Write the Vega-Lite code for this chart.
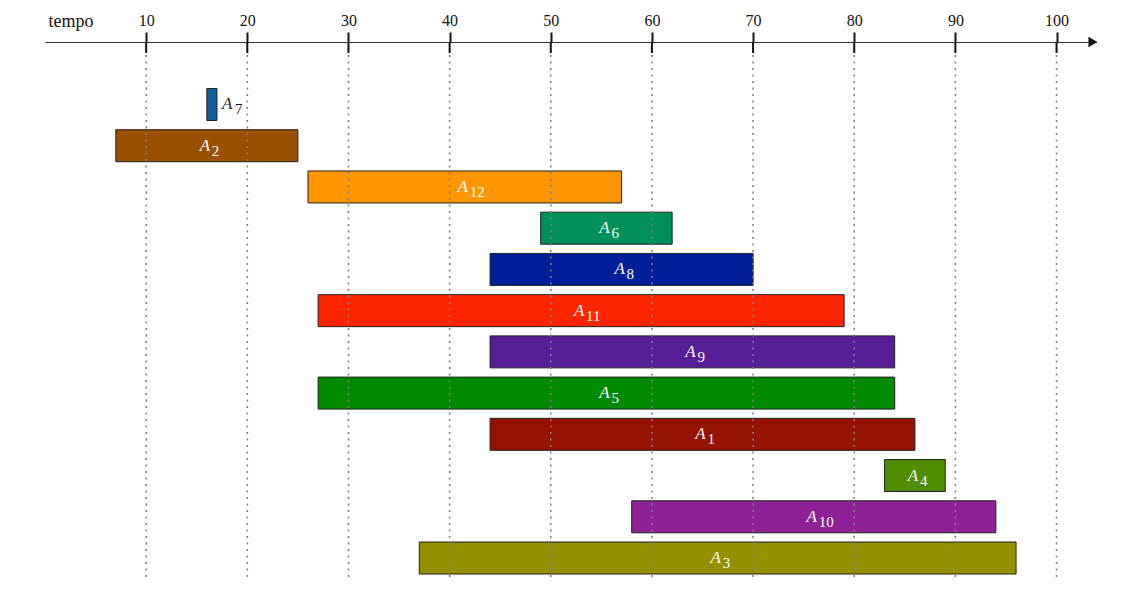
{
  "$schema": "https://vega.github.io/schema/vega-lite/v6.json",
  "autosize": {"type": "none"},
  "padding": {"left": 45, "top": 42, "right": 0, "bottom": 0},
  "width": 1052,
  "height": 538,
  "background": "white",
  "config": {"view": {"stroke": null}, "font": "Liberation Serif, serif"},
  "datasets": {
    "tasks": [
      {"id": "A7", "sub": "7", "start": 16, "end": 17},
      {"id": "A2", "sub": "2", "start": 7, "end": 25},
      {"id": "A12", "sub": "12", "start": 26, "end": 57},
      {"id": "A6", "sub": "6", "start": 49, "end": 62},
      {"id": "A8", "sub": "8", "start": 44, "end": 70},
      {"id": "A11", "sub": "11", "start": 27, "end": 79},
      {"id": "A9", "sub": "9", "start": 44, "end": 84},
      {"id": "A5", "sub": "5", "start": 27, "end": 84},
      {"id": "A1", "sub": "1", "start": 44, "end": 86},
      {"id": "A4", "sub": "4", "start": 83, "end": 89},
      {"id": "A10", "sub": "10", "start": 58, "end": 94},
      {"id": "A3", "sub": "3", "start": 37, "end": 96}
    ],
    "ticks": [{"t": 10}, {"t": 20}, {"t": 30}, {"t": 40}, {"t": 50}, {"t": 60}, {"t": 70}, {"t": 80}, {"t": 90}, {"t": 100}]
  },
  "layer": [
    {
      "data": {"name": "tasks"},
      "layer": [
        {
          "mark": {"type": "bar", "stroke": "#222222", "strokeWidth": 1},
          "encoding": {
            "y": {"field": "id", "type": "nominal", "sort": null,
              "scale": {"domain": ["A7","A2","A12","A6","A8","A11","A9","A5","A1","A4","A10","A3"], "paddingInner": 0.224, "paddingOuter": 0.6365, "align": 0.886},
              "axis": null},
            "x": {"field": "start", "type": "quantitative",
              "scale": {"domain": [0, 104], "nice": false, "zero": false},
              "axis": {
                "orient": "top", "values": [10,20,30,40,50,60,70,80,90,100],
                "title": "tempo", "titleX": 3, "titleY": -16, "titleAlign": "left", "titleAnchor": "start",
                "titleBaseline": "alphabetic", "titleFont": "Liberation Serif, serif", "titleFontSize": 18,
                "titleFontWeight": "normal", "titleColor": "#111111", "titleAngle": 0,
                "labelFont": "Liberation Serif, serif", "labelFontSize": 16, "labelColor": "#111111", "labelPadding": 4,
                "tickSize": 10, "tickWidth": 2, "tickColor": "#111111",
                "domainColor": "#333333", "domainWidth": 1.2,
                "grid": false
              }},
            "x2": {"field": "end"},
            "color": {"field": "id", "type": "nominal",
              "scale": {"domain": ["A7","A2","A12","A6","A8","A11","A9","A5","A1","A4","A10","A3"],
                "range": ["#135e9a","#995000","#ff9500","#00915a","#001e9a","#ff2500","#561d96","#008a00","#951200","#4e8c00","#8e2195","#959000"]},
              "legend": null}
          }
        },
        {
          "transform": [{"filter": "datum.id !== 'A7'"}, {"fold": ["start", "end"], "as": ["k", "v"]}],
          "mark": {"type": "text", "font": "Liberation Serif, serif", "fontStyle": "italic", "fontSize": 17, "color": "white", "dx": -2, "baseline": "middle"},
          "encoding": {
            "x": {"aggregate": "mean", "field": "v", "type": "quantitative"},
            "y": {"field": "id", "type": "nominal", "sort": null, "axis": null},
            "text": {"value": "A"}
          }
        },
        {
          "transform": [{"filter": "datum.id !== 'A7'"}, {"fold": ["start", "end"], "as": ["k", "v"]}],
          "mark": {"type": "text", "font": "Liberation Serif, serif", "fontSize": 15, "color": "white", "dx": 5, "dy": 5, "align": "left", "baseline": "middle"},
          "encoding": {
            "x": {"aggregate": "mean", "field": "v", "type": "quantitative"},
            "y": {"field": "id", "type": "nominal", "sort": null, "axis": null},
            "text": {"field": "sub", "type": "nominal"}
          }
        },
        {
          "transform": [{"filter": "datum.id === 'A7'"}],
          "mark": {"type": "text", "font": "Liberation Serif, serif", "fontStyle": "italic", "fontSize": 17, "color": "#222222", "dx": 5, "align": "left", "baseline": "middle"},
          "encoding": {
            "x": {"field": "end", "type": "quantitative"},
            "y": {"field": "id", "type": "nominal", "sort": null, "axis": null},
            "text": {"value": "A"}
          }
        },
        {
          "transform": [{"filter": "datum.id === 'A7'"}],
          "mark": {"type": "text", "font": "Liberation Serif, serif", "fontSize": 15, "color": "#222222", "dx": 18, "dy": 5, "align": "left", "baseline": "middle"},
          "encoding": {
            "x": {"field": "end", "type": "quantitative"},
            "y": {"field": "id", "type": "nominal", "sort": null, "axis": null},
            "text": {"field": "sub", "type": "nominal"}
          }
        }
      ]
    },
    {
      "data": {"name": "ticks"},
      "mark": {"type": "rule", "strokeWidth": 1.6, "color": "#808080", "strokeDash": [2, 4.5]},
      "encoding": {
        "x": {"field": "t", "type": "quantitative"},
        "y": {"datum": 1, "type": "quantitative", "scale": {"domain": [0, 1]}, "axis": null},
        "y2": {"datum": 0}
      }
    },
    {
      "data": {"name": "ticks"},
      "mark": {"type": "rule", "strokeWidth": 2, "color": "#111111"},
      "encoding": {
        "x": {"field": "t", "type": "quantitative"},
        "y": {"datum": 1, "type": "quantitative", "scale": {"domain": [0, 1]}, "axis": null},
        "y2": {"datum": 0.9796}
      }
    },
    {
      "data": {"values": [{"tip": 103.6}]},
      "mark": {"type": "point", "shape": "triangle-right", "filled": true, "size": 110, "color": "#111111", "opacity": 1},
      "encoding": {
        "x": {"field": "tip", "type": "quantitative"},
        "y": {"datum": 1, "type": "quantitative", "scale": {"domain": [0, 1]}, "axis": null}
      }
    }
  ],
  "resolve": {"scale": {"y": "independent"}}
}
